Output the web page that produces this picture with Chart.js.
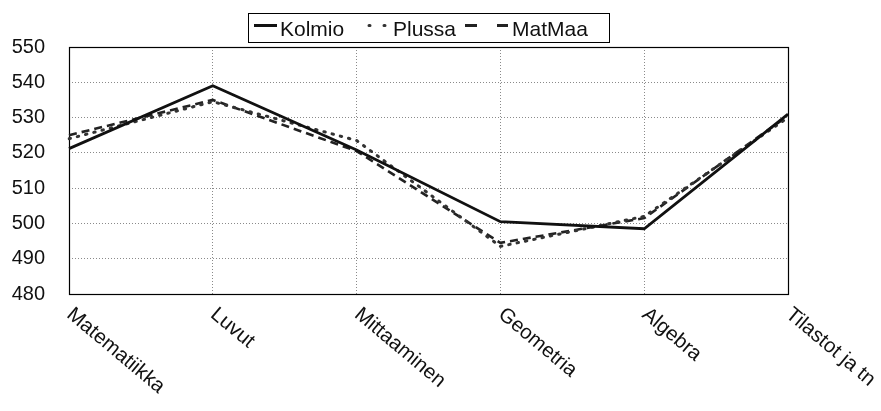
<!DOCTYPE html>
<html>
<head>
<meta charset="utf-8">
<script src="https://cdn.jsdelivr.net/npm/chart.js@4"></script>
<style>
  html, body { margin: 0; padding: 0; background: #fff; }
  #wrap { width: 881px; height: 411px; }
</style>
</head>
<body>
<div id="wrap"><canvas id="c" width="881" height="411"></canvas></div>
<script>
// Osa-alueiden keskiarvot kirjasarjoittain
const categories = ['Matematiikka', 'Luvut', 'Mittaaminen', 'Geometria', 'Algebra', 'Tilastot ja tn'];
const kolmio = [521.2, 539, 520.8, 500.5, 498.5, 531];
const plussa = [524, 534.5, 523.5, 493.5, 502, 530];
const matmaa = [525, 535, 520.5, 494.5, 501.5, 530.5];
const seriesNames = ['Kolmio', 'Plussa', 'MatMaa'];
const yMin = 480, yMax = 550, yStep = 10;

const FONT = '"Liberation Sans", Arial, sans-serif';

// Framed legend above the plot
const boxLegend = {
  id: 'boxLegend',
  afterDraw(chart) {
    const ctx = chart.ctx;
    const items = [
      { ds: 0, x0: 254, x1: 277, tx: 280, dash: [] , cap: 'butt'},
      { ds: 1, x0: 369, x1: 390, tx: 393, dash: [1, 14], cap: 'round' },
      { ds: 2, x0: 465, x1: 508, tx: 512, dash: [12, 20], cap: 'butt' }
    ];
    ctx.save();
    ctx.strokeStyle = '#000';
    ctx.lineWidth = 1;
    ctx.strokeRect(248.5, 13.5, 361, 29);
    ctx.font = '21px ' + FONT;
    ctx.textBaseline = 'alphabetic';
    ctx.textAlign = 'left';
    items.forEach(it => {
      const ds = chart.data.datasets[it.ds];
      ctx.beginPath();
      ctx.setLineDash(it.dash);
      ctx.lineCap = it.cap;
      ctx.lineWidth = 3;
      ctx.strokeStyle = ds.borderColor;
      ctx.moveTo(it.x0, 25.5);
      ctx.lineTo(it.x1, 25.5);
      ctx.stroke();
      ctx.setLineDash([]);
      ctx.fillStyle = '#111';
      ctx.fillText(ds.label, it.tx, 36);
    });
    ctx.restore();
  }
};

// Plot frame and diagonal category labels
const frameAndLabels = {
  id: 'frameAndLabels',
  beforeDatasetsDraw(chart) {
    const { ctx, chartArea: a } = chart;
    ctx.save();
    ctx.strokeStyle = '#000';
    ctx.lineWidth = 1.2;
    ctx.strokeRect(Math.round(a.left) + 0.5, Math.round(a.top) + 0.5,
                   Math.round(a.right - a.left), Math.round(a.bottom - a.top));
    ctx.restore();
  },
  afterDraw(chart) {
    const { ctx, chartArea: a } = chart;
    const xs = chart.scales.x;
    ctx.save();
    ctx.font = '20.5px ' + FONT;
    ctx.fillStyle = '#111';
    ctx.textAlign = 'left';
    ctx.textBaseline = 'top';
    chart.data.labels.forEach((lab, i) => {
      const x = xs.getPixelForTick(i);
      ctx.save();
      ctx.translate(x + 7, a.bottom + 10);
      ctx.rotate(40 * Math.PI / 180);
      ctx.fillText(lab, 0, 0);
      ctx.restore();
    });
    ctx.restore();
  }
};

new Chart(document.getElementById('c'), {
  type: 'line',
  data: {
    labels: categories,
    datasets: [
      { label: seriesNames[0], data: kolmio, borderColor: '#111', borderWidth: 2.8,
        pointRadius: 0, tension: 0, fill: false },
      { label: seriesNames[1], data: plussa, borderColor: '#333', borderWidth: 3,
        borderDash: [1.5, 7], borderCapStyle: 'round', pointRadius: 0, tension: 0, fill: false },
      { label: seriesNames[2], data: matmaa, borderColor: '#222', borderWidth: 2.6,
        borderDash: [8, 5], pointRadius: 0, tension: 0, fill: false }
    ]
  },
  options: {
    responsive: false,
    animation: false,
    devicePixelRatio: 1,
    layout: { padding: { left: 12, right: 93, top: 47, bottom: 117 } },
    plugins: {
      legend: { display: false },
      tooltip: { enabled: false }
    },
    scales: {
      x: {
        offset: false,
        border: { display: false, dash: [1, 2] },
        grid: { display: true, color: '#8a8a8a', lineWidth: 1, drawTicks: false },
        ticks: { display: false }
      },
      y: {
        min: yMin, max: yMax,
        border: { display: false, dash: [1, 2] },
        grid: { color: '#8a8a8a', lineWidth: 1, drawTicks: false },
        ticks: { stepSize: yStep, padding: 24, color: '#111',
                 font: { family: FONT, size: 20 } },
        afterFit(scale) { scale.width = 57; }
      }
    }
  },
  plugins: [frameAndLabels, boxLegend]
});
</script>
</body>
</html>
